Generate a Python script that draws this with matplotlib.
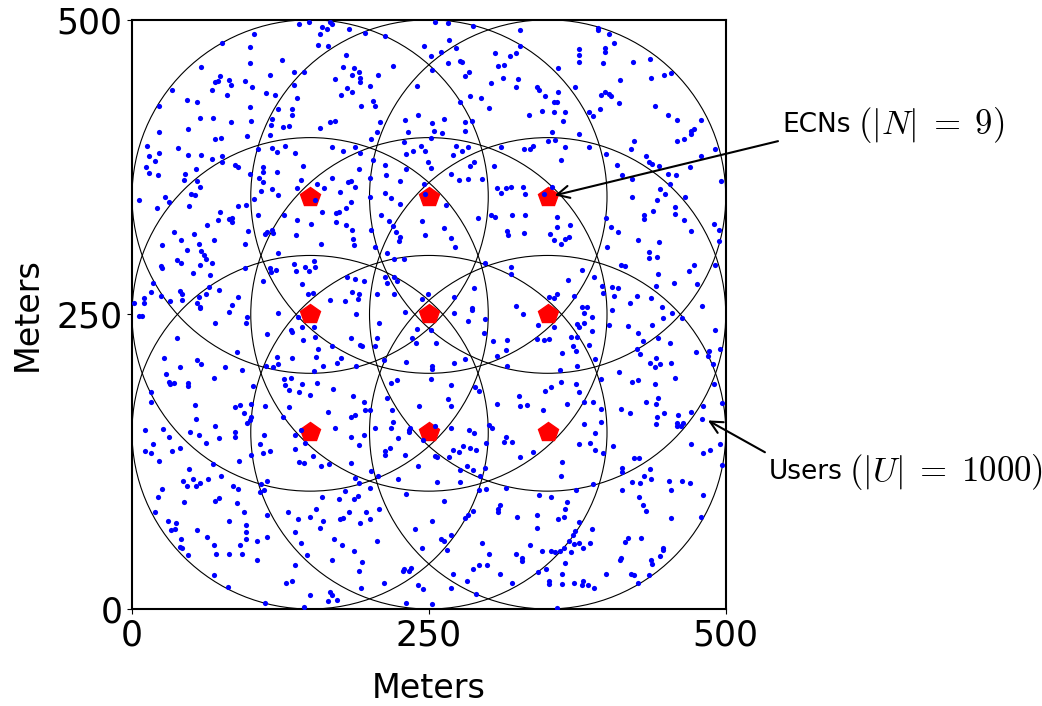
import numpy as np
import matplotlib
matplotlib.use("Agg")
import matplotlib.pyplot as plt
from matplotlib.patches import Circle

plt.rcParams['mathtext.fontset'] = 'cm'

# Edge computing nodes (ECNs) placed on a 3x3 grid, in meters
ecn_x = [150, 250, 350, 150, 250, 350, 150, 250, 350]
ecn_y = [350, 350, 350, 250, 250, 250, 150, 150, 150]
coverage_radius = 150

area_ticks = [0, 250, 500]

# User positions (meters)
users = np.array([
    (103, 488), (76, 480), (99, 477), (99, 463), (58, 460), (116, 453), (74, 452), (82, 449), (72, 448), (70, 447),
    (95, 448), (83, 445), (101, 443), (34, 440), (67, 440), (113, 438), (120, 436), (80, 436), (46, 432), (55, 430),
    (123, 424), (23, 427), (99, 426), (118, 416), (57, 417), (68, 417), (100, 414), (83, 413), (117, 411), (47, 407),
    (23, 405), (116, 402), (97, 401), (75, 400), (70, 399), (13, 393), (39, 391), (106, 390), (118, 391), (122, 388),
    (23, 387), (14, 384), (47, 385), (58, 385), (76, 384), (19, 380), (67, 382), (76, 379), (12, 375), (87, 377),
    (89, 375), (110, 375), (122, 371), (110, 371), (54, 373), (14, 370), (22, 368), (45, 369), (99, 369), (107, 366),
    (44, 364), (55, 363), (110, 362), (57, 358), (118, 356), (109, 355), (50, 352), (53, 351), (28, 350), (123, 351),
    (6, 347), (31, 345), (103, 348), (21, 340), (48, 342), (89, 342), (96, 343), (74, 337),
    (141, 496), (149, 498), (167, 498), (168, 496), (160, 494), (164, 492), (158, 488), (183, 492), (196, 489), (213, 486),
    (157, 479), (165, 478), (246, 478), (180, 470), (126, 466), (178, 460), (187, 459), (220, 461), (191, 456), (145, 456),
    (136, 456), (185, 453), (207, 453), (192, 451), (171, 450), (192, 447), (136, 445), (200, 444), (181, 442), (185, 439),
    (240, 444), (176, 436), (139, 434), (203, 431), (205, 427), (193, 427), (135, 424), (135, 419), (241, 419), (230, 415),
    (209, 413), (167, 413), (171, 414), (132, 410), (127, 409), (158, 408), (232, 405), (206, 405), (201, 399), (229, 396),
    (243, 393), (247, 389), (129, 393), (168, 392), (178, 389), (188, 392), (237, 389), (137, 387), (192, 387), (231, 386),
    (203, 381), (249, 379), (144, 376), (213, 377), (191, 373), (231, 373), (214, 368), (168, 366), (200, 366), (142, 364),
    (226, 363), (184, 363), (182, 362), (156, 361), (246, 361), (162, 357), (188, 358), (139, 357), (175, 354), (213, 353),
    (218, 349), (200, 350), (154, 347), (247, 352), (184, 345), (180, 340), (226, 344), (160, 337), (172, 336), (174, 337),
    (255, 498), (266, 497), (287, 495), (327, 491), (267, 483), (273, 476), (260, 473), (252, 469), (327, 478), (306, 472),
    (323, 472), (318, 469), (376, 475), (376, 470), (266, 463), (276, 465), (278, 464), (313, 462), (308, 461), (376, 464),
    (359, 459), (253, 457), (284, 456), (280, 452), (312, 451), (325, 450), (302, 446), (323, 443), (341, 443), (343, 440),
    (359, 439), (373, 443), (348, 435), (285, 435), (294, 434), (276, 430), (355, 430), (358, 430), (301, 425), (345, 423),
    (355, 422), (365, 422), (334, 419), (263, 416), (280, 413), (286, 414), (363, 414), (253, 412), (254, 406), (261, 404),
    (280, 406), (354, 405), (376, 403), (252, 400), (350, 397), (356, 398), (273, 393), (283, 392), (278, 389), (311, 392),
    (330, 390), (335, 390), (338, 393), (365, 392), (270, 385), (288, 379), (285, 376), (305, 376), (361, 381), (252, 374),
    (269, 369), (275, 364), (283, 365), (295, 365), (307, 357), (315, 357), (319, 358), (311, 353), (329, 358), (331, 352),
    (347, 352), (354, 358), (264, 343),
    (392, 493), (392, 491), (402, 488), (406, 480), (398, 476), (398, 473), (436, 467), (422, 464), (397, 463), (437, 451),
    (448, 453), (454, 455), (411, 449), (398, 439), (395, 436), (402, 437), (403, 435), (410, 429), (440, 427), (394, 424),
    (385, 422), (388, 418), (451, 419), (459, 415), (479, 415), (471, 406), (473, 407), (471, 403), (423, 397), (459, 397),
    (465, 399), (420, 390), (385, 392), (491, 390), (479, 384), (399, 386), (433, 384), (435, 379), (438, 378), (444, 376),
    (408, 377), (470, 375), (451, 369), (458, 368), (413, 368), (421, 365), (453, 361), (496, 363), (445, 356), (449, 352),
    (466, 350), (421, 350), (442, 347), (457, 341), (439, 338),
    (106, 334), (72, 330), (82, 331), (84, 332), (84, 328), (63, 326), (35, 320), (41, 313), (52, 318), (25, 309),
    (56, 310), (69, 313), (95, 310), (98, 321), (112, 318), (114, 320), (118, 322), (119, 319), (46, 305), (58, 304),
    (61, 300), (62, 297), (38, 296), (41, 294), (67, 294), (123, 302), (24, 291), (25, 289), (57, 292), (95, 289),
    (116, 289), (117, 286), (121, 288), (51, 285), (66, 283), (110, 278), (18, 277), (16, 269), (65, 273), (73, 271),
    (40, 270), (42, 267), (42, 262), (24, 266), (10, 264), (10, 260), (2, 260), (32, 261), (56, 265), (62, 267),
    (55, 260), (89, 265), (84, 258), (57, 256), (57, 255), (82, 252), (123, 251), (6, 249), (8, 249), (97, 248),
    (96, 243), (70, 243), (114, 233), (38, 230), (88, 218), (27, 213), (122, 214), (55, 211), (58, 208), (123, 208),
    (113, 206), (119, 205), (40, 205), (78, 205), (93, 203), (29, 199), (69, 196), (31, 193), (35, 192), (32, 191),
    (47, 192), (47, 189), (102, 189), (16, 184), (16, 176), (53, 173), (87, 171), (91, 173), (100, 174), (112, 172),
    (128, 334), (139, 330), (151, 327), (172, 328), (180, 326), (185, 322), (201, 322), (210, 334), (216, 329), (220, 325),
    (222, 320), (226, 316), (225, 312), (244, 329), (247, 317), (138, 317), (186, 314), (187, 309), (159, 310), (205, 307),
    (215, 302), (221, 297), (229, 297), (153, 295), (136, 293), (146, 290), (149, 287), (154, 290), (138, 287), (181, 282),
    (188, 280), (195, 278), (213, 282), (215, 277), (221, 282), (223, 278), (143, 276), (148, 267), (152, 268), (185, 269),
    (191, 267), (190, 263), (206, 267), (221, 267), (244, 263), (167, 262), (179, 261), (249, 267), (189, 250), (230, 252),
    (140, 248), (153, 239), (143, 239), (134, 237), (135, 235), (208, 243), (240, 238), (154, 231), (144, 228), (184, 230),
    (206, 230), (236, 230), (239, 226), (192, 224), (194, 223), (205, 223), (168, 223), (157, 221), (155, 214), (135, 213),
    (176, 213), (173, 209), (212, 211), (231, 210), (161, 206), (189, 206), (153, 202), (128, 195), (134, 196), (129, 190),
    (132, 186), (143, 191), (156, 192), (169, 187), (141, 184), (150, 182), (218, 192), (223, 194), (186, 181), (215, 179),
    (132, 171), (195, 176), (196, 169), (200, 169), (219, 169), (242, 172),
    (291, 332), (302, 334), (306, 333), (320, 334), (331, 334), (358, 333), (263, 323), (269, 315), (272, 307), (316, 321),
    (317, 317), (330, 319), (352, 318), (355, 313), (358, 324), (369, 326), (365, 314), (368, 316), (361, 310), (297, 294),
    (319, 290), (319, 284), (367, 279), (288, 272), (271, 265), (351, 265), (355, 264), (358, 267), (372, 266), (323, 257),
    (329, 250), (286, 254), (286, 255), (271, 251), (297, 246), (283, 244), (342, 241), (355, 239), (375, 242), (376, 239),
    (252, 237), (296, 234), (304, 227), (316, 228), (315, 220), (307, 215), (256, 226), (341, 229), (347, 228), (351, 229),
    (375, 231), (370, 231), (371, 223), (374, 219), (362, 217), (280, 212), (271, 209), (316, 206), (253, 206), (253, 204),
    (252, 195), (360, 203), (375, 206), (361, 193), (374, 191), (376, 184), (269, 190), (289, 188), (292, 185), (348, 185),
    (353, 188), (266, 178), (269, 172), (307, 174), (326, 181), (327, 172), (333, 173), (346, 169), (366, 174),
    (399, 332), (431, 334), (431, 331), (457, 335), (465, 330), (490, 327), (494, 322), (471, 321), (403, 324), (409, 320),
    (444, 311), (426, 313), (494, 312), (400, 307), (435, 303), (435, 298), (442, 299), (412, 292), (415, 291), (473, 292),
    (469, 287), (491, 292), (443, 284), (389, 282), (379, 288), (456, 277), (476, 276), (441, 274), (396, 274), (404, 273),
    (409, 272), (397, 268), (406, 266), (425, 266), (437, 264), (419, 260), (480, 257), (379, 256), (383, 256), (446, 256),
    (404, 254), (381, 251), (455, 251), (463, 247), (387, 248), (447, 247), (381, 243), (402, 241), (418, 240), (438, 241),
    (387, 236), (491, 237), (426, 234), (430, 227), (443, 230), (453, 226), (385, 224), (425, 221), (428, 216), (475, 218),
    (486, 219), (495, 221), (485, 215), (489, 208), (390, 212), (441, 213), (436, 209), (440, 205), (445, 208), (454, 209),
    (410, 201), (457, 196), (395, 195), (421, 193), (426, 194), (440, 191), (490, 191), (388, 176), (381, 176), (395, 170),
    (412, 170), (433, 176), (443, 179), (441, 174), (481, 172), (497, 175),
    (11, 152), (26, 153), (54, 161), (70, 155), (94, 166), (97, 158), (99, 160), (100, 163), (31, 146), (49, 150),
    (56, 148), (73, 145), (87, 150), (87, 146), (62, 141), (111, 148), (18, 140), (11, 134), (16, 132), (23, 126),
    (34, 134), (40, 137), (68, 123), (90, 126), (100, 131), (108, 140), (110, 132), (116, 134), (48, 119), (43, 109),
    (51, 110), (57, 107), (54, 104), (46, 104), (64, 110), (75, 113), (85, 104), (89, 102), (114, 109), (109, 106),
    (108, 99), (111, 101), (25, 102), (22, 95), (19, 82), (44, 91), (70, 92), (73, 94), (88, 90), (94, 82),
    (114, 80), (30, 75), (37, 73), (36, 68), (33, 67), (55, 67), (82, 75), (96, 71), (96, 65), (63, 61),
    (41, 59), (40, 53), (42, 52), (47, 46), (69, 54), (71, 47), (82, 47), (93, 47), (91, 54), (96, 59),
    (105, 58), (114, 61), (105, 42), (69, 29), (81, 19), (112, 5),
    (127, 163), (165, 167), (184, 163), (188, 165), (142, 152), (137, 148), (146, 141), (171, 154), (184, 146), (195, 148),
    (191, 139), (205, 154), (218, 154), (220, 159), (224, 145), (233, 152), (233, 150), (234, 154), (245, 143), (137, 136),
    (152, 130), (141, 125), (145, 124), (159, 121), (166, 123), (184, 124), (213, 134), (213, 131), (217, 137), (230, 131),
    (241, 121), (201, 117), (207, 113), (188, 111), (191, 107), (200, 103), (224, 110), (179, 100), (231, 98), (160, 95),
    (174, 93), (187, 93), (190, 96), (208, 85), (155, 85), (131, 82), (150, 78), (140, 76), (161, 75), (175, 76),
    (178, 77), (183, 82), (197, 82), (200, 76), (192, 73), (158, 69), (238, 68), (137, 65), (170, 59), (142, 56),
    (177, 54), (206, 58), (244, 52), (147, 46), (187, 49), (168, 42), (194, 40), (191, 32), (137, 37), (228, 32),
    (229, 34), (233, 32), (235, 35), (135, 24), (130, 22), (212, 22), (193, 18), (150, 12), (167, 14), (168, 12),
    (173, 8), (165, 7), (145, 2), (231, 5), (241, 20), (245, 17),
    (255, 155), (269, 154), (284, 152), (288, 149), (301, 156), (303, 154), (313, 142), (315, 146), (320, 142), (298, 141),
    (279, 138), (285, 137), (290, 135), (270, 135), (275, 133), (267, 129), (255, 130), (257, 129), (327, 129), (338, 133),
    (362, 125), (376, 140), (282, 121), (287, 118), (276, 118), (297, 120), (293, 113), (361, 113), (257, 108), (276, 108),
    (315, 103), (292, 101), (298, 102), (374, 101), (343, 97), (353, 95), (263, 92), (366, 91), (365, 85), (310, 88),
    (308, 85), (308, 82), (283, 80), (280, 77), (287, 83), (324, 78), (341, 80), (341, 69), (359, 76), (364, 78),
    (376, 74), (253, 75), (269, 63), (260, 59), (263, 58), (265, 50), (295, 56), (335, 54), (376, 56), (373, 66),
    (371, 63), (368, 58), (364, 52), (360, 49), (356, 48), (353, 49), (345, 49), (370, 48), (372, 55), (301, 47),
    (323, 47), (328, 43), (328, 41), (365, 39), (292, 37), (299, 37), (287, 34), (349, 34), (342, 31), (362, 30),
    (270, 30), (310, 30), (351, 24), (351, 21), (362, 21), (372, 22), (282, 24), (320, 22), (269, 18), (290, 13),
    (253, 4), (358, 1),
    (381, 157), (395, 159), (419, 166), (448, 166), (460, 165), (442, 163), (441, 157), (459, 158), (459, 155), (462, 155),
    (464, 158), (471, 167), (480, 161), (390, 149), (386, 141), (390, 135), (397, 132), (405, 138), (471, 140), (481, 132),
    (487, 135), (495, 140), (497, 122), (423, 128), (427, 128), (413, 120), (413, 116), (436, 119), (431, 113), (437, 110),
    (421, 108), (428, 107), (452, 109), (463, 109), (470, 107), (388, 106), (413, 101), (454, 101), (481, 97), (427, 95),
    (430, 88), (433, 83), (454, 77), (479, 78), (387, 68), (429, 60), (418, 60), (415, 57), (386, 56), (380, 52),
    (447, 52), (447, 50), (445, 45), (412, 43), (411, 42), (437, 42), (438, 38), (399, 30), (420, 30), (423, 29),
    (435, 29), (426, 22), (380, 24), (379, 20), (384, 20), (389, 18),
])
user_x = users[:, 0]
user_y = users[:, 1]

fig = plt.figure(figsize=(10.42, 7.06), dpi=100)
ax = fig.add_axes([0.1267, 0.1374, 0.5698, 0.8346])

# coverage circles of every ECN
for cx, cy in zip(ecn_x, ecn_y):
    ax.add_patch(Circle((cx, cy), coverage_radius, fill=False,
                        edgecolor='black', linewidth=0.8, zorder=1))

ax.plot(ecn_x, ecn_y, 'p', color='red', markersize=15, zorder=2)
ax.scatter(user_x, user_y, s=14, color='blue', linewidths=0, zorder=3)

ax.set_xlim(0, 500)
ax.set_ylim(0, 500)
ax.set_xticks(area_ticks)
ax.set_yticks(area_ticks)
ax.tick_params(labelsize=25)
for spine in ax.spines.values():
    spine.set_linewidth(1.5)
ax.set_xlabel('Meters', fontsize=24, labelpad=14)
ax.set_ylabel('Meters', fontsize=24, labelpad=9)

arrow = dict(arrowstyle='->', color='black', lw=1.5, mutation_scale=22,
             shrinkA=0, shrinkB=0)

# annotation arrows (tip, tail) in meters
ax.annotate('', xy=(356, 351), xytext=(544, 397), arrowprops=arrow,
            annotation_clip=False)
ax.annotate('', xy=(485, 160), xytext=(533, 133), arrowprops=arrow,
            annotation_clip=False)

# labels: sans word followed by a larger serif math part
ecn_word = ax.text(548, 411, 'ECNs', fontsize=19, va='center', ha='left',
                   clip_on=False)
ax.annotate(r'$(|N|\;=\;9)$', xy=(1, 0.5), xycoords=ecn_word,
            xytext=(5, 0), textcoords='offset points',
            fontsize=25, va='center', ha='left', annotation_clip=False)

user_word = ax.text(536, 116, 'Users', fontsize=19, va='center', ha='left',
                    clip_on=False)
ax.annotate(r'$(|U|\;=\;1000)$', xy=(1, 0.5), xycoords=user_word,
            xytext=(5, 0), textcoords='offset points',
            fontsize=25, va='center', ha='left', annotation_clip=False)

plt.savefig('out.png', dpi=100)
